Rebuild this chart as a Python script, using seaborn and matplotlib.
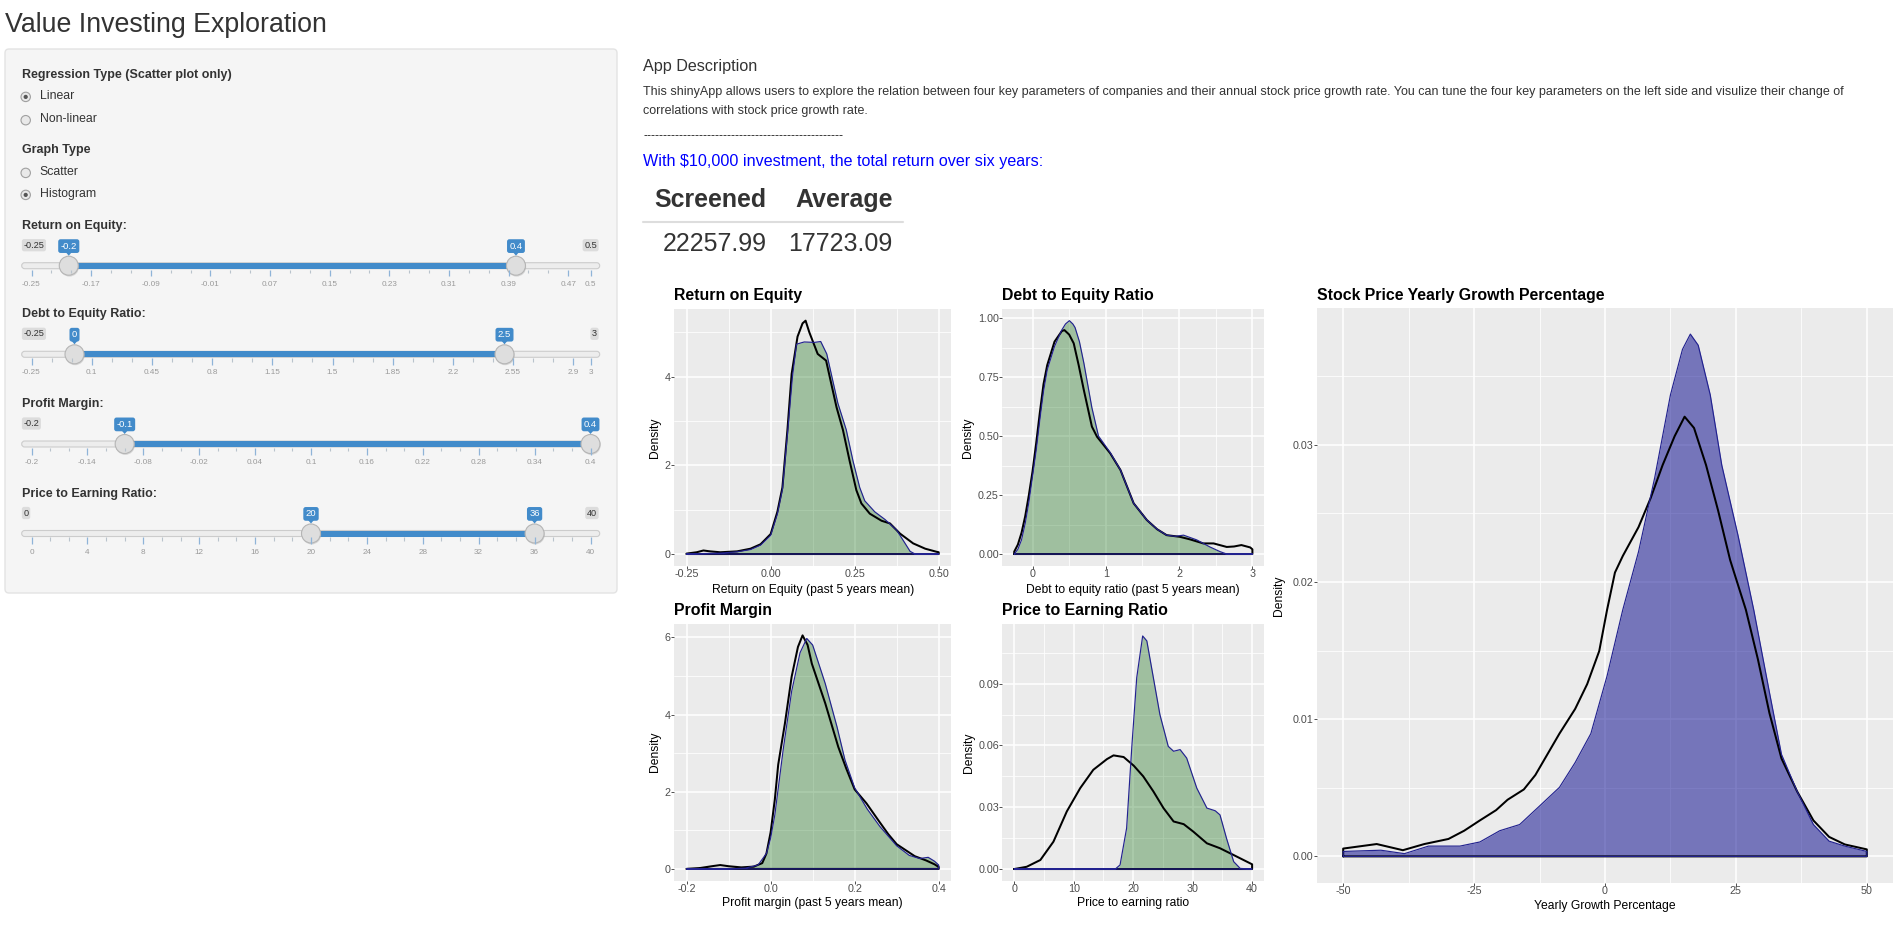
import numpy as np
import matplotlib
matplotlib.use("Agg")
import matplotlib.pyplot as plt
from matplotlib.patches import FancyBboxPatch, Circle, Rectangle, Polygon
import seaborn as sns

# ---------------- data ----------------
# Return on Equity: all companies (black) and screened companies (green fill)
roe_all_x = [-0.25, -0.22, -0.20, -0.18, -0.15, -0.10, -0.06, -0.03, 0.00, 0.02, 0.035, 0.05, 0.0625,
             0.08, 0.095, 0.104, 0.115, 0.14, 0.165, 0.196, 0.215, 0.235, 0.255, 0.27, 0.295, 0.33,
             0.355, 0.385, 0.424, 0.46, 0.494, 0.50]
roe_all_d = [0.01, 0.04, 0.08, 0.06, 0.04, 0.06, 0.12, 0.22, 0.45, 0.95, 1.5, 2.8, 4.06,
             4.9, 5.2, 5.26, 5.0, 4.51, 4.36, 3.31, 2.8, 2.1, 1.44, 1.14, 0.91, 0.75,
             0.69, 0.46, 0.24, 0.12, 0.05, 0.04]
roe_scr_x = [-0.25, -0.20, -0.15, -0.10, -0.06, -0.03, 0.00, 0.02, 0.035, 0.05, 0.065, 0.077, 0.10,
             0.13, 0.149, 0.167, 0.20, 0.225, 0.245, 0.265, 0.28, 0.31, 0.34, 0.375, 0.40, 0.415,
             0.43, 0.50]
roe_scr_d = [0.0, 0.01, 0.02, 0.05, 0.10, 0.20, 0.42, 0.90, 1.45, 2.7, 4.0, 4.73, 4.78,
             4.77, 4.79, 4.51, 3.4, 2.8, 2.1, 1.5, 1.2, 0.95, 0.78, 0.54, 0.24, 0.06,
             0.0, 0.0]

# Debt to Equity Ratio
de_all_x = [-0.25, -0.2, -0.15, -0.1, -0.05, 0.0, 0.05, 0.1, 0.15, 0.2, 0.3, 0.4, 0.435, 0.5, 0.562,
            0.63, 0.7, 0.81, 0.88, 1.06, 1.2, 1.38, 1.56, 1.7, 1.83, 2.01, 2.15, 2.33, 2.47, 2.65,
            2.75, 2.85, 2.97, 3.0]
de_all_d = [0.01, 0.04, 0.09, 0.16, 0.25, 0.35, 0.47, 0.6, 0.72, 0.8, 0.9, 0.945, 0.949, 0.93, 0.893,
            0.8, 0.695, 0.54, 0.497, 0.427, 0.356, 0.215, 0.144, 0.105, 0.08, 0.073, 0.062, 0.045,
            0.045, 0.03, 0.032, 0.038, 0.028, 0.02]
de_scr_x = [-0.25, -0.2, -0.15, -0.1, -0.05, 0.0, 0.05, 0.1, 0.15, 0.2, 0.3, 0.4, 0.45, 0.503, 0.55,
            0.58, 0.64, 0.7, 0.81, 0.9, 1.06, 1.2, 1.38, 1.56, 1.7, 1.83, 1.95, 2.06, 2.15, 2.24,
            2.42, 2.56, 2.65, 3.0]
de_scr_d = [0.0, 0.02, 0.06, 0.13, 0.22, 0.33, 0.44, 0.57, 0.69, 0.78, 0.88, 0.95, 0.975, 0.989, 0.975,
            0.96, 0.9, 0.81, 0.62, 0.5, 0.43, 0.356, 0.215, 0.144, 0.105, 0.08, 0.075, 0.08, 0.07,
            0.06, 0.03, 0.01, 0.0, 0.0]

# Profit Margin
pm_all_x = [-0.2, -0.17, -0.14, -0.12, -0.1, -0.07, -0.04, -0.02, -0.01, 0.0, 0.01, 0.018, 0.034,
            0.05, 0.065, 0.076, 0.088, 0.098, 0.13, 0.161, 0.18, 0.2, 0.228, 0.257, 0.28, 0.3,
            0.343, 0.37, 0.39, 0.4]
pm_all_d = [0.0, 0.02, 0.07, 0.1, 0.07, 0.04, 0.06, 0.15, 0.4, 0.95, 1.8, 2.7, 3.77,
            4.98, 5.75, 6.05, 5.8, 5.32, 4.29, 3.16, 2.6, 2.06, 1.7, 1.25, 0.9, 0.64,
            0.33, 0.22, 0.12, 0.05]
pm_scr_x = [-0.2, -0.1, -0.06, -0.03, -0.01, 0.0, 0.01, 0.03, 0.05, 0.07, 0.086, 0.1, 0.13, 0.158,
            0.177, 0.2, 0.23, 0.26, 0.3, 0.33, 0.355, 0.375, 0.39, 0.4]
pm_scr_d = [0.0, 0.0, 0.02, 0.1, 0.4, 0.8, 1.4, 3.1, 4.6, 5.6, 5.97, 5.8, 4.8, 3.68,
            2.82, 2.1, 1.55, 1.1, 0.6, 0.35, 0.27, 0.3, 0.2, 0.1]

# Price to Earning Ratio
pe_all_x = [0, 2.1, 4.4, 6.6, 8.85, 11.1, 13.3, 15.6, 16.7, 18.4, 20.1, 21.7, 23.4, 25.1, 26.8,
            28.5, 30.1, 32.4, 34.6, 36.9, 40]
pe_all_d = [0.0, 0.0011, 0.0044, 0.0133, 0.028, 0.0393, 0.0482, 0.0534, 0.0552, 0.0544, 0.0502,
            0.045, 0.0377, 0.0296, 0.0231, 0.0218, 0.0182, 0.0125, 0.0101, 0.0068, 0.0023]
pe_scr_x = [0, 10, 17.0, 17.8, 18.9, 19.8, 20.6, 21.6, 22.3, 23.4, 24.5, 25.9, 26.8, 27.9, 29.0,
            30.7, 32.4, 33.8, 34.6, 35.7, 36.9, 38.0, 40]
pe_scr_d = [0, 0, 0.0, 0.002, 0.0198, 0.0604, 0.0929, 0.1132, 0.1108, 0.0929, 0.075, 0.0596, 0.0572,
            0.058, 0.0539, 0.0393, 0.0296, 0.0283, 0.0263, 0.0149, 0.0036, 0.0003, 0]

# Stock price yearly growth percentage
gr_all_x = [-50, -43.6, -38.6, -34.5, -29.9, -26.9, -23.9, -20.8, -18.6, -15.5, -13.3, -11.0, -8.7,
            -5.7, -3.4, -1.1, 0.4, 1.9, 3.4, 6.4, 8.7, 11.0, 13.3, 15.2, 17.0, 19.3, 21.6, 23.9,
            26.9, 29.2, 31.4, 33.7, 36.7, 39.8, 42.8, 45.8, 50]
gr_all_d = [0.00057, 0.0009, 0.00045, 0.0009, 0.00127, 0.00187, 0.00262, 0.00337, 0.00413, 0.00488,
            0.00593, 0.00744, 0.00895, 0.01075, 0.01256, 0.01497, 0.01798, 0.02069, 0.0219, 0.024,
            0.0261, 0.02852, 0.03063, 0.03205, 0.03123, 0.02852, 0.02521, 0.0216, 0.01798, 0.01437,
            0.01045, 0.00714, 0.00473, 0.00262, 0.00142, 0.00087, 0.00051]
gr_scr_x = [-50, -42.8, -38.3, -33.7, -27.7, -23.9, -20.1, -16.3, -12.5, -8.7, -5.7, -2.7, 0.4, 3.4,
            6.4, 9.5, 12.5, 14.8, 16.3, 17.8, 20.1, 22.3, 25.4, 28.4, 31.4, 33.7, 36.7, 39.8, 42.8,
            45.8, 50]
gr_scr_d = [0.00036, 0.00045, 0.0002, 0.00075, 0.00075, 0.00105, 0.00187, 0.00232, 0.00367, 0.00503,
            0.00684, 0.00895, 0.01316, 0.01798, 0.0222, 0.02762, 0.03364, 0.03696, 0.03807, 0.03726,
            0.03364, 0.02852, 0.0234, 0.01798, 0.01196, 0.00744, 0.00473, 0.00232, 0.00111, 0.00075,
            0.00036]

# axis ticks
roe_xticks = [-0.25, 0.0, 0.25, 0.5]; roe_xlabels = ["-0.25", "0.00", "0.25", "0.50"]
roe_yticks = [0, 2, 4];               roe_ylabels = ["0", "2", "4"]
de_xticks = [0, 1, 2, 3];             de_xlabels = ["0", "1", "2", "3"]
de_yticks = [0, 0.25, 0.5, 0.75, 1.0]; de_ylabels = ["0.00", "0.25", "0.50", "0.75", "1.00"]
pm_xticks = [-0.2, 0.0, 0.2, 0.4];    pm_xlabels = ["-0.2", "0.0", "0.2", "0.4"]
pm_yticks = [0, 2, 4, 6];             pm_ylabels = ["0", "2", "4", "6"]
pe_xticks = [0, 10, 20, 30, 40];      pe_xlabels = ["0", "10", "20", "30", "40"]
pe_yticks = [0, 0.03, 0.06, 0.09];    pe_ylabels = ["0.00", "0.03", "0.06", "0.09"]
gr_xticks = [-50, -25, 0, 25, 50];    gr_xlabels = ["-50", "-25", "0", "25", "50"]
gr_yticks = [0, 0.01, 0.02, 0.03];    gr_ylabels = ["0.00", "0.01", "0.02", "0.03"]

# sidebar sliders
slider_titles = ["Return on Equity:", "Debt to Equity Ratio:", "Profit Margin:", "Price to Earning Ratio:"]
slider_min = [-0.25, -0.25, -0.2, 0]
slider_max = [0.5, 3, 0.4, 40]
slider_from = [-0.2, 0, -0.1, 20]
slider_to = [0.4, 2.5, 0.4, 36]
slider_grid = [
    [-0.25, -0.17, -0.09, -0.01, 0.07, 0.15, 0.23, 0.31, 0.39, 0.47, 0.5],
    [-0.25, 0.1, 0.45, 0.8, 1.15, 1.5, 1.85, 2.2, 2.55, 2.9, 3],
    [-0.2, -0.14, -0.08, -0.02, 0.04, 0.1, 0.16, 0.22, 0.28, 0.34, 0.4],
    [0, 4, 8, 12, 16, 20, 24, 28, 32, 36, 40],
]
slider_show_max = [True, True, False, True]

screened_total = "22257.99"
average_total = "17723.09"

# ---------------- figure ----------------
W, H = 1901, 925
sns.set_theme(style="darkgrid")
plt.rcParams['font.family'] = ['Liberation Sans', 'DejaVu Sans']
PT = 0.72  # px -> pt at dpi 100

fig = plt.figure(figsize=(W / 100, H / 100), dpi=100)
fig.patch.set_facecolor('white')
bg = fig.add_axes([0, 0, 1, 1])
bg.set_xlim(0, W); bg.set_ylim(H, 0); bg.axis('off')
renderer = fig.canvas.get_renderer()


def txt(x, y, s, px, ha='left', va='center', **kw):
    return bg.text(x, y, s, fontsize=px * PT, ha=ha, va=va, **kw)


def fit(x0, x1, y, s, px, ha='left', **kw):
    t = txt(x0 if ha == 'left' else x1, y, s, px, ha=ha, **kw)
    for _ in range(3):
        w = t.get_window_extent(renderer).width
        t.set_fontsize(t.get_fontsize() * (x1 - x0) / w)
    return t


# page title
fit(5, 328, 24.5, "Value Investing Exploration", 26, color='#333333')

# sidebar panel
bg.add_patch(FancyBboxPatch((5, 49), 612, 544, boxstyle="round,pad=0,rounding_size=4",
                            fc='#f5f5f5', ec='#e3e3e3', lw=1))
lab = fit(21.7, 232.3, 74.7, "Regression Type (Scatter plot only)", 12.5, color='#333333', fontweight='bold')
LAB_FS = lab.get_fontsize()


def radio(y, s, selected):
    bg.add_patch(Circle((25.7, y + 1.2), 4.7, fc='#e9e9e9', ec='#a0a0a0', lw=0.8))
    if selected:
        bg.add_patch(Circle((25.7, y + 1.2), 2.1, fc='#555555', ec='none'))
    bg.text(39.7, y, s, fontsize=12.3 * PT, ha='left', va='center', color='#333333')


radio(95.7, "Linear", True)
radio(119.0, "Non-linear", False)
bg.text(21.7, 149.7, "Graph Type", fontsize=LAB_FS, fontweight='bold', ha='left', va='center', color='#333333')
radio(171.7, "Scatter", False)
radio(193.7, "Histogram", True)

slider_title_y = [225.7, 314.3, 404.0, 493.5]
G0, G1 = 31.5, 590.5
BLUE = '#428bca'


def fmt(v):
    return ('%g' % v)


for i in range(4):
    T = slider_title_y[i]
    vmin, vmax = slider_min[i], slider_max[i]
    X = lambda v: G0 + (v - vmin) / (vmax - vmin) * (G1 - G0)
    bg.text(21.7, T, slider_titles[i], fontsize=LAB_FS, fontweight='bold', ha='left', va='center',
            color='#333333')
    # track
    bg.add_patch(FancyBboxPatch((21.7, T + 37), 578, 6, boxstyle="round,pad=0,rounding_size=3",
                                fc='#ededed', ec='#cccccc', lw=0.8))
    bg.add_patch(Rectangle((X(slider_from[i]), T + 37), X(slider_to[i]) - X(slider_from[i]), 6,
                           fc=BLUE, ec='none'))
    # grid
    g = slider_grid[i]
    step = g[1] - g[0]
    for k, v in enumerate(g):
        bg.plot([X(v), X(v)], [T + 43.8, T + 50.5], color='#8fb4d8', lw=0.9, solid_capstyle='butt')
        bg.text(X(v), T + 58.6, fmt(v), fontsize=8.2 * PT, ha='center', va='center', color='#9a9a9a')
        if k + 1 < len(g) and abs((g[k + 1] - v) - step) < 1e-9:
            for f in (1 / 3, 2 / 3):
                xm = X(v + f * step)
                bg.plot([xm, xm], [T + 43.8, T + 47.2], color='#b9c3cc', lw=0.8, solid_capstyle='butt')
    # min / max labels
    bg.text(23.5, T + 19.5, fmt(vmin), fontsize=9.1 * PT, ha='left', va='center', color='#333333',
            bbox=dict(boxstyle="round,pad=0.18,rounding_size=0.25", fc='#dcdcdc', ec='none'))
    if slider_show_max[i]:
        bg.text(597, T + 19.5, fmt(vmax), fontsize=9.1 * PT, ha='right', va='center', color='#333333',
                bbox=dict(boxstyle="round,pad=0.18,rounding_size=0.25", fc='#dcdcdc', ec='none'))
    # handles & value labels
    for v in (slider_from[i], slider_to[i]):
        cx = X(v)
        bg.add_patch(Circle((cx + 0.6, T + 41.3), 9.6, fc='#b0b0b0', ec='none', alpha=0.45))
        bg.add_patch(Circle((cx, T + 40), 9.5, fc='#dedede', ec='#b5b5b5', lw=0.8))
        bg.add_patch(Polygon([[cx - 3, T + 26.5], [cx + 3, T + 26.5], [cx, T + 30]], closed=True,
                             fc=BLUE, ec='none'))
        bg.text(cx, T + 20.4, fmt(v), fontsize=9.5 * PT, ha='center', va='center', color='white',
                bbox=dict(boxstyle="round,pad=0.25,rounding_size=0.25", fc=BLUE, ec='none'))

# right column text
fit(643, 757.4, 66.7, "App Description", 16, color='#333333')
d1 = fit(643, 1843, 92, "This shinyApp allows users to explore the relation between four key parameters of "
         "companies and their annual stock price growth rate. You can tune the four key parameters on "
         "the left side and visulize their change of", 12, color='#333333')
bg.text(643, 110.7, "correlations with stock price growth rate.", fontsize=d1.get_fontsize(), ha='left',
        va='center', color='#333333')
bg.text(643, 135.7, "-" * 50, fontsize=12.5 * PT, ha='left', va='center', color='#222222')
fit(643, 1044, 161.7, "With $10,000 investment, the total return over six years:", 16, color='#0000ff')

h = fit(654.6, 766.7, 200, "Screened", 26, ha='right', color='#333333', fontweight='bold')
bg.text(892.7, 200, "Average", fontsize=h.get_fontsize(), ha='right', va='center', color='#333333',
        fontweight='bold')
bg.plot([643, 902.6], [222, 222], color='#dddddd', lw=1.5)
v = fit(662.7, 766.7, 244, screened_total, 25, ha='right', color='#333333')
bg.text(892.7, 244, average_total, fontsize=v.get_fontsize(), ha='right', va='center', color='#333333')

# ---------------- density plots ----------------
TICK_FS = 10.8 * PT
AXT_FS = 12.1 * PT
TITLE_FS = 15.9 * PT


def make_ax(l, t, r, b):
    return fig.add_axes([l / W, (H - b) / H, (r - l) / W, (b - t) / H])


def minors(ticks, lo, hi):
    st = ticks[1] - ticks[0]
    out = []
    m = ticks[0] - st / 2
    while m <= hi:
        if m >= lo:
            out.append(m)
        m += st
    return out


def density_panel(box, title, title_y, xa, da, xs, ds, xt, xtl, yt, ytl, xlabel, fill, alpha,
                  ylabelpad=2.6, xlabelpad=2.4):
    l, t, r, b = box
    ax = make_ax(l, t, r, b)
    ax.set_facecolor('#EBEBEB')
    xa = np.asarray(xa, float); da = np.asarray(da, float)
    xs = np.asarray(xs, float); ds = np.asarray(ds, float)
    ax.fill_between(xs, ds, 0, color=fill, alpha=alpha, lw=0, zorder=2)
    ca_x = np.concatenate([[xa[0]], xa, [xa[-1], xa[0]]])
    ca_y = np.concatenate([[0.0], da, [0.0, 0.0]])
    sns.lineplot(x=ca_x, y=ca_y, ax=ax, sort=False, estimator=None, color='black', linewidth=1.45,
                 zorder=3)
    cs_x = np.concatenate([[xs[0]], xs, [xs[-1], xs[0]]])
    cs_y = np.concatenate([[0.0], ds, [0.0, 0.0]])
    sns.lineplot(x=cs_x, y=cs_y, ax=ax, sort=False, estimator=None, color='#22228f', linewidth=0.85,
                 zorder=4)
    xmn = min(xa.min(), xs.min()); xmx = max(xa.max(), xs.max())
    ymx = max(da.max(), ds.max())
    xl = (xmn - 0.05 * (xmx - xmn), xmx + 0.05 * (xmx - xmn))
    yl = (-0.05 * ymx, 1.05 * ymx)
    ax.set_xlim(*xl); ax.set_ylim(*yl)
    ax.set_xticks(xt); ax.set_xticklabels(xtl)
    ax.set_yticks(yt); ax.set_yticklabels(ytl)
    ax.set_xticks(minors(xt, *xl), minor=True)
    ax.set_yticks(minors(yt, *yl), minor=True)
    ax.grid(True, which='major', color='white', lw=1.1)
    ax.grid(True, which='minor', color='white', lw=0.55)
    ax.set_axisbelow(True)
    for s in ax.spines.values():
        s.set_visible(False)
    ax.tick_params(which='major', length=1.95, width=0.6, color='#333333', pad=0.5,
                   labelsize=TICK_FS, labelcolor='#4D4D4D', bottom=True, left=True)
    ax.tick_params(which='minor', length=0)
    ax.set_xlabel(xlabel, fontsize=AXT_FS, labelpad=xlabelpad, color='black')
    ax.set_ylabel("Density", fontsize=AXT_FS, labelpad=ylabelpad, color='black')
    bg.text(l, title_y, title, fontsize=TITLE_FS, fontweight='bold', ha='left', va='center', color='black')
    return ax


GREEN = '#006400'
NAVY = '#00008B'
density_panel((674, 309, 951.3, 565.7), "Return on Equity", 295.7, roe_all_x, roe_all_d, roe_scr_x, roe_scr_d,
              roe_xticks, roe_xlabels, roe_yticks, roe_ylabels, "Return on Equity (past 5 years mean)", GREEN, 0.32,
              xlabelpad=3.2)
density_panel((1002.3, 309, 1264.3, 565.7), "Debt to Equity Ratio", 295.7, de_all_x, de_all_d, de_scr_x,
              de_scr_d, de_xticks, de_xlabels, de_yticks, de_ylabels, "Debt to equity ratio (past 5 years mean)",
              GREEN, 0.32, xlabelpad=3.2)
density_panel((674, 623.7, 951.3, 880.6), "Profit Margin", 610, pm_all_x, pm_all_d, pm_scr_x, pm_scr_d,
              pm_xticks, pm_xlabels, pm_yticks, pm_ylabels, "Profit margin (past 5 years mean)", GREEN, 0.32)
density_panel((1002.3, 624.3, 1264, 880.7), "Price to Earning Ratio", 610, pe_all_x, pe_all_d, pe_scr_x,
              pe_scr_d, pe_xticks, pe_xlabels, pe_yticks, pe_ylabels, "Price to earning ratio", GREEN, 0.32)
density_panel((1317, 308, 1893, 882.5), "Stock Price Yearly Growth Percentage", 295.4, gr_all_x, gr_all_d,
              gr_scr_x, gr_scr_d, gr_xticks, gr_xlabels, gr_yticks, gr_ylabels, "Yearly Growth Percentage",
              NAVY, 0.5, ylabelpad=5.5, xlabelpad=2.6)

fig.savefig("out.png", dpi=100, facecolor='white')
